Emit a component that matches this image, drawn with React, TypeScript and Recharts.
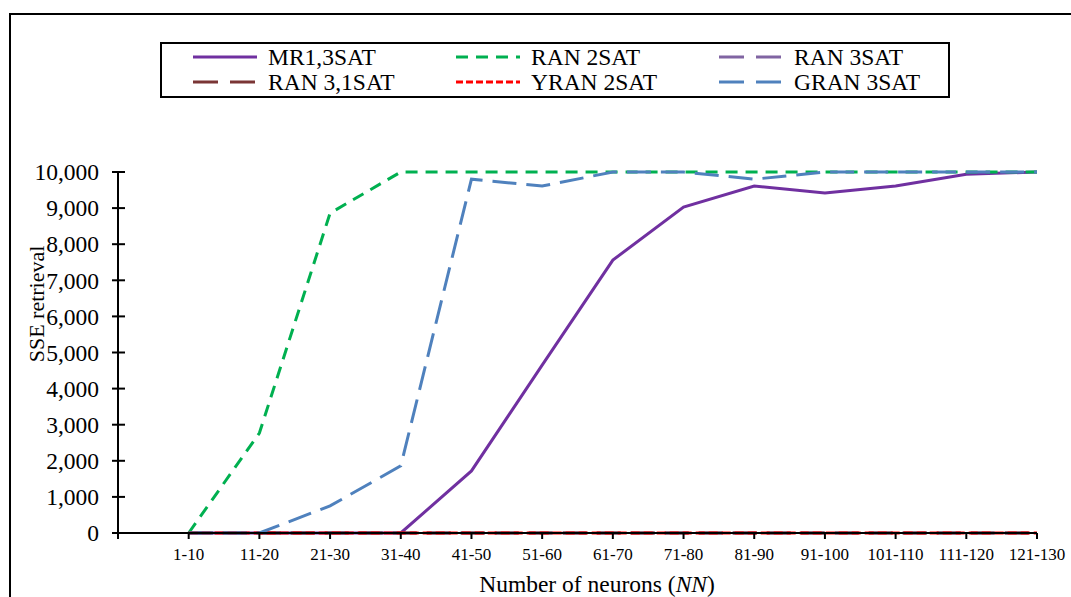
import React from 'react';
import { LineChart, Line, XAxis, YAxis } from 'recharts';

const FONT = '"Liberation Serif", "Times New Roman", serif';

// first slot is an empty category (the chart starts one step left of 1-10)
const categories = ['', '1-10', '11-20', '21-30', '31-40', '41-50', '51-60', '61-70', '71-80', '81-90', '91-100', '101-110', '111-120', '121-130'];

const mr13sat = [null, 0, 0, 0, 0, 1720, 4650, 7560, 9030, 9610, 9420, 9610, 9940, 10000];
const ran2sat = [null, 0, 2770, 8860, 10000, 10000, 10000, 10000, 10000, 10000, 10000, 10000, 10000, 10000];
const ran3sat = [null, 0, 0, 0, 0, 0, 0, 0, 0, 0, 0, 0, 0, 0];
const ran31sat = [null, 0, 0, 0, 0, 0, 0, 0, 0, 0, 0, 0, 0, 0];
const yran2sat = [null, 0, 0, 0, 0, 0, 0, 0, 0, 0, 0, 0, 0, 0];
const gran3sat = [null, 0, 0, 750, 1860, 9800, 9610, 10000, 10000, 9800, 10000, 10000, 10000, 10000];

const yTicks = [0, 1000, 2000, 3000, 4000, 5000, 6000, 7000, 8000, 9000, 10000];

const series = [
  { key: 'mr13sat', name: 'MR1,3SAT', values: mr13sat, color: '#7030A0', dash: undefined, legendDash: undefined },
  { key: 'ran2sat', name: 'RAN 2SAT', values: ran2sat, color: '#00B050', dash: '12 8', legendDash: '12 8' },
  { key: 'ran3sat', name: 'RAN 3SAT', values: ran3sat, color: '#8064A2', dash: '24 10', legendDash: '25 12' },
  { key: 'ran31sat', name: 'RAN 3,1SAT', values: ran31sat, color: '#7A3535', dash: '24 10', legendDash: '25 12' },
  { key: 'yran2sat', name: 'YRAN 2SAT', values: yran2sat, color: '#FF0000', dash: '9 4', legendDash: '7 3' },
  { key: 'gran3sat', name: 'GRAN 3SAT', values: gran3sat, color: '#4F81BD', dash: '24 10', legendDash: '25 12' },
];

const data = categories.map((name, i) => {
  const row: any = { name };
  series.forEach((s) => {
    row[s.key] = s.values[i];
  });
  return row;
});

const fmt = (v: number) => v.toLocaleString('en-US');

const YTick = (props: any) => {
  const { x, y, payload } = props;
  return (
    <g>
      <line x1={x - 6} x2={x + 7} y1={y} y2={y} stroke="#000" strokeWidth={2} />
      <text x={x - 19} y={y} dy="0.35em" textAnchor="end" fontSize={23.5} fontFamily={FONT} fill="#000">
        {fmt(payload.value)}
      </text>
    </g>
  );
};

const XTitle = () => (
  <text x={597} y={592} textAnchor="middle" fontSize={23.5} fontFamily={FONT} fill="#000">
    Number of neurons (<tspan fontStyle="italic">NN</tspan>)
  </text>
);

const YTitle = () => (
  <text
    x={36}
    y={304}
    textAnchor="middle"
    dominantBaseline="central"
    transform="rotate(-90 36 304)"
    fontSize={22}
    fontFamily={FONT}
    fill="#000"
  >
    SSE retrieval
  </text>
);

function LegendBox() {
  const cols = [32, 295, 558];
  const rows = [13, 38];
  return (
    <div
      style={{
        position: 'absolute',
        left: 160,
        top: 42,
        width: 790,
        height: 56,
        border: '2px solid #000',
        boxSizing: 'border-box',
        background: '#fff',
      }}
    >
      {series.map((s, i) => {
        const left = cols[i % 3];
        const top = rows[Math.floor(i / 3)];
        return (
          <div key={s.key} style={{ position: 'absolute', left: left - 2, top: top - 14, height: 28, display: 'flex', alignItems: 'center' }}>
            <svg width={66} height={28}>
              <line x1={1} x2={65} y1={14} y2={14} stroke={s.color} strokeWidth={3} strokeDasharray={s.legendDash} />
            </svg>
            <span style={{ marginLeft: 10, fontFamily: FONT, fontSize: 23.5, color: '#000', whiteSpace: 'nowrap', lineHeight: '28px' }}>
              {s.name}
            </span>
          </div>
        );
      })}
    </div>
  );
}

export default function App() {
  return (
    <div style={{ position: 'fixed', left: 0, top: 0, width: 1071, height: 597, overflow: 'hidden', background: '#fff' }}>
      <div
        style={{
          position: 'absolute',
          left: 9,
          top: 13,
          width: 1200,
          height: 800,
          border: '2px solid #000',
        }}
      />
      <div style={{ position: 'absolute', left: 0, top: 0 }}>
        <LineChart width={1071} height={597} data={data} margin={{ top: 172, right: 34, bottom: 0, left: 0 }}>
          <XAxis
            dataKey="name"
            height={64}
            interval={0}
            stroke="#000"
            strokeWidth={2}
            tickLine={{ stroke: '#000', strokeWidth: 2 }}
            tickSize={6}
            tickMargin={9}
            tick={{ fontSize: 17, fill: '#000', fontFamily: FONT }}
            label={{ content: () => <XTitle /> }}
          />
          <YAxis
            width={118}
            domain={[0, 10000]}
            ticks={yTicks}
            interval={0}
            stroke="#000"
            strokeWidth={2}
            tickLine={false}
            tickSize={0}
            tickMargin={0}
            tick={<YTick />}
            label={{ content: () => <YTitle /> }}
          />
          {series.map((s) => (
            <Line
              key={s.key}
              dataKey={s.key}
              name={s.name}
              stroke={s.color}
              strokeWidth={3}
              strokeDasharray={s.dash}
              dot={false}
              activeDot={false}
              isAnimationActive={false}
            />
          ))}
        </LineChart>
      </div>
      <LegendBox />
    </div>
  );
}
